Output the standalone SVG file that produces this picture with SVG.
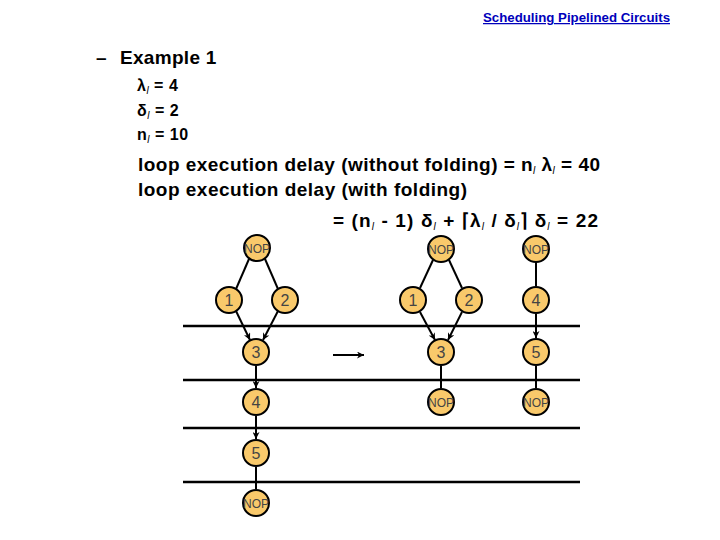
<svg xmlns="http://www.w3.org/2000/svg" width="720" height="540" viewBox="0 0 720 540">
<defs>
<marker id="ah" viewBox="0 0 10 10" refX="10" refY="5" markerWidth="7" markerHeight="7" orient="auto" markerUnits="userSpaceOnUse">
<path d="M0,0 L10,5 L0,10 L3,5 z" fill="#000"/>
</marker>
<style>
.t{font-family:"Liberation Sans",Arial,sans-serif;font-weight:bold;fill:#000}
.s{font-style:italic;font-weight:normal;font-size:10px}
.hl{stroke:#000;stroke-width:2.5}
.n circle{fill:#F9C96B;stroke:#000;stroke-width:2}
.n text{font-family:"Liberation Sans",Arial,sans-serif;font-size:16px;fill:#444;text-anchor:middle}
.n text.nop{font-size:12px}
.e line{stroke:#000;stroke-width:2}
.e line.a{marker-end:url(#ah)}
</style>
</defs>
<rect width="720" height="540" fill="#fff"/>
<text x="483" y="22" textLength="187" lengthAdjust="spacingAndGlyphs" style="font-family:'Liberation Sans',Arial,sans-serif;font-weight:bold;font-size:12.5px;fill:#0000BB;text-decoration:underline">Scheduling Pipelined Circuits</text>
<text class="t" x="96" y="64" font-size="19">–</text>
<text class="t" x="120" y="64" font-size="19" letter-spacing="0.3">Example 1</text>
<text class="t" x="137" y="91" font-size="16" letter-spacing="0.5">λ<tspan class="s" dy="3">l</tspan><tspan dy="-3"> = 4</tspan></text>
<text class="t" x="137" y="116" font-size="16" letter-spacing="0.5">δ<tspan class="s" dy="3">l</tspan><tspan dy="-3">  = 2</tspan></text>
<text class="t" x="137" y="140" font-size="16" letter-spacing="0.5">n<tspan class="s" dy="3">l</tspan><tspan dy="-3"> = 10</tspan></text>
<text class="t" x="138" y="171" font-size="19" textLength="462" lengthAdjust="spacing">loop execution delay (without folding) = n<tspan class="s" dy="3">l</tspan><tspan dy="-3"> λ</tspan><tspan class="s" dy="3">l</tspan><tspan dy="-3"> = 40</tspan></text>
<text class="t" x="138" y="196" font-size="19" textLength="329" lengthAdjust="spacing">loop execution delay (with folding)</text>
<text class="t" x="333" y="227" font-size="19" textLength="265" lengthAdjust="spacing">= (n<tspan class="s" dy="3">l</tspan><tspan dy="-3"> - 1) δ</tspan><tspan class="s" dy="3">l</tspan><tspan dy="-3"> + ⌈λ</tspan><tspan class="s" dy="3">l</tspan><tspan dy="-3"> / δ</tspan><tspan class="s" dy="3">l</tspan><tspan dy="-3">⌉ δ</tspan><tspan class="s" dy="3">l</tspan><tspan dy="-3"> = 22</tspan></text>
<g id="rows">
<line class="hl" x1="183" y1="326" x2="580" y2="326"/>
<line class="hl" x1="183" y1="380" x2="580" y2="380"/>
<line class="hl" x1="183" y1="428" x2="580" y2="428"/>
<line class="hl" x1="183" y1="482" x2="580" y2="482"/>
</g>
<g id="connectors" class="e">
<line x1="249" y1="259" x2="236" y2="289"/>
<line x1="265" y1="259" x2="278" y2="289"/>
<line class="a" x1="236" y1="311" x2="250" y2="340"/>
<line class="a" x1="278" y1="311" x2="263" y2="340"/>
<line class="a" x1="256" y1="366" x2="256" y2="388"/>
<line class="a" x1="256" y1="416" x2="256" y2="439"/>
<line x1="256" y1="467" x2="256" y2="489"/>
<line x1="433" y1="260" x2="420" y2="288"/>
<line x1="449" y1="260" x2="462" y2="288"/>
<line class="a" x1="420" y1="312" x2="435" y2="340"/>
<line class="a" x1="462" y1="312" x2="448" y2="340"/>
<line x1="441" y1="366" x2="441" y2="388"/>
<line x1="536" y1="262" x2="536" y2="286"/>
<line class="a" x1="536" y1="314" x2="536" y2="338"/>
<line x1="536" y1="366" x2="536" y2="388"/>
<line class="a" x1="333" y1="355" x2="364" y2="355"/>
</g>
<g id="n_l_nop0" class="n"><circle cx="257" cy="248" r="13"/><text class="nop" x="257" y="253">NOP</text></g>
<g id="n_l_1" class="n"><circle cx="229" cy="300" r="13"/><text x="229" y="306">1</text></g>
<g id="n_l_2" class="n"><circle cx="285" cy="300" r="13"/><text x="285" y="306">2</text></g>
<g id="n_l_3" class="n"><circle cx="256" cy="352" r="13"/><text x="256" y="358">3</text></g>
<g id="n_l_4" class="n"><circle cx="256" cy="402" r="13"/><text x="256" y="408">4</text></g>
<g id="n_l_5" class="n"><circle cx="256" cy="453" r="13"/><text x="256" y="459">5</text></g>
<g id="n_l_nop1" class="n"><circle cx="256" cy="503" r="13"/><text class="nop" x="256" y="508">NOP</text></g>
<g id="n_m_nop0" class="n"><circle cx="441" cy="249" r="13"/><text class="nop" x="441" y="254">NOP</text></g>
<g id="n_m_1" class="n"><circle cx="413" cy="300" r="13"/><text x="413" y="306">1</text></g>
<g id="n_m_2" class="n"><circle cx="469" cy="300" r="13"/><text x="469" y="306">2</text></g>
<g id="n_m_3" class="n"><circle cx="441" cy="352" r="13"/><text x="441" y="358">3</text></g>
<g id="n_m_nop1" class="n"><circle cx="441" cy="402" r="13"/><text class="nop" x="441" y="407">NOP</text></g>
<g id="n_r_nop0" class="n"><circle cx="536" cy="249" r="13"/><text class="nop" x="536" y="254">NOP</text></g>
<g id="n_r_4" class="n"><circle cx="536" cy="300" r="13"/><text x="536" y="306">4</text></g>
<g id="n_r_5" class="n"><circle cx="536" cy="352" r="13"/><text x="536" y="358">5</text></g>
<g id="n_r_nop1" class="n"><circle cx="536" cy="402" r="13"/><text class="nop" x="536" y="407">NOP</text></g>
</svg>
